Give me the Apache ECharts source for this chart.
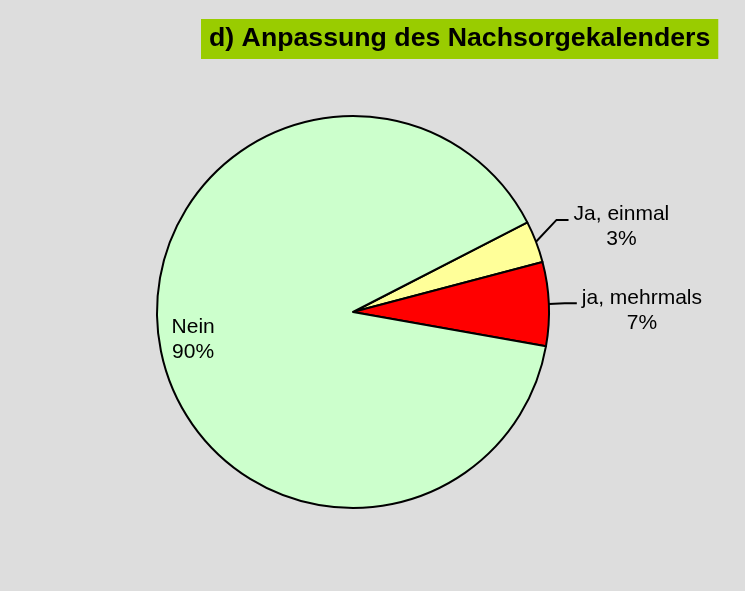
<!DOCTYPE html>
<html>
<head>
    <meta charset="utf-8">
    <title>Anpassung des Nachsorgekalenders</title>
    <script src="https://cdn.jsdelivr.net/npm/echarts@6/dist/echarts.min.js"></script>
</head>
<body style="margin: 0; padding: 0; background: #dddddd;">
<div id="main" style="width: 745px; height: 591px;"></div>
<script type="text/javascript">
    // Antworten (Anzahl)
    var categories = ['Ja, einmal', 'ja, mehrmals', 'Nein'];
    var counts = [1, 2, 26];
    var colors = ['#ffff99', '#ff0000', '#ccffcc'];

    var myChart = echarts.init(document.getElementById('main'));

    var pieData = categories.map(function (name, i) {
        var item = {
            name: name,
            value: counts[i],
            itemStyle: { color: colors[i] }
        };
        if (name === 'Nein') {
            item.label = { position: 'inside', offset: [-60, 13], padding: 0 };
        }
        if (name === 'ja, mehrmals') {
            item.labelLine = { length: 16 };
        }
        return item;
    });

    var option = {
        backgroundColor: '#dddddd',
        title: {
            text: 'd) Anpassung des Nachsorgekalenders',
            left: 201,
            top: 19,
            padding: [6, 8, 7, 8],
            backgroundColor: '#99cc00',
            textStyle: {
                fontFamily: 'Liberation Sans, Arial, sans-serif',
                fontSize: 26.7,
                fontWeight: 'bold',
                color: '#000'
            }
        },
        series: [{
            type: 'pie',
            center: [353, 312],
            radius: 196,
            startAngle: 27.2,
            clockwise: true,
            percentPrecision: 0,
            animation: false,
            itemStyle: { borderColor: '#000', borderWidth: 2 },
            emphasis: { disabled: true },
            label: {
                show: true,
                position: 'outside',
                formatter: '{t|{b}}\n{t|{d}%}',
                color: '#000',
                padding: [14, 0, 0, 0],
                fontFamily: 'Liberation Sans, Arial, sans-serif',
                fontSize: 21,
                rich: {
                    t: {
                        fontFamily: 'Liberation Sans, Arial, sans-serif',
                        fontSize: 21,
                        lineHeight: 25,
                        color: '#000',
                        align: 'center'
                    }
                }
            },
            labelLayout: function (params) {
                // "Ja, einmal" sitzt etwas hoeher, Linie knickt mit nach oben
                if (params.dataIndex === 0 && params.labelLinePoints) {
                    var p = params.labelLinePoints;
                    return {
                        dy: -14,
                        labelLinePoints: [
                            p[0],
                            [p[1][0], p[1][1] - 14],
                            [p[2][0], p[2][1] - 14]
                        ]
                    };
                }
                return {};
            },
            labelLine: {
                show: true,
                length: 22,
                length2: 12,
                lineStyle: { color: '#000', width: 2 }
            },
            data: pieData
        }]
    };

    myChart.setOption(option);
</script>
</body>
</html>
